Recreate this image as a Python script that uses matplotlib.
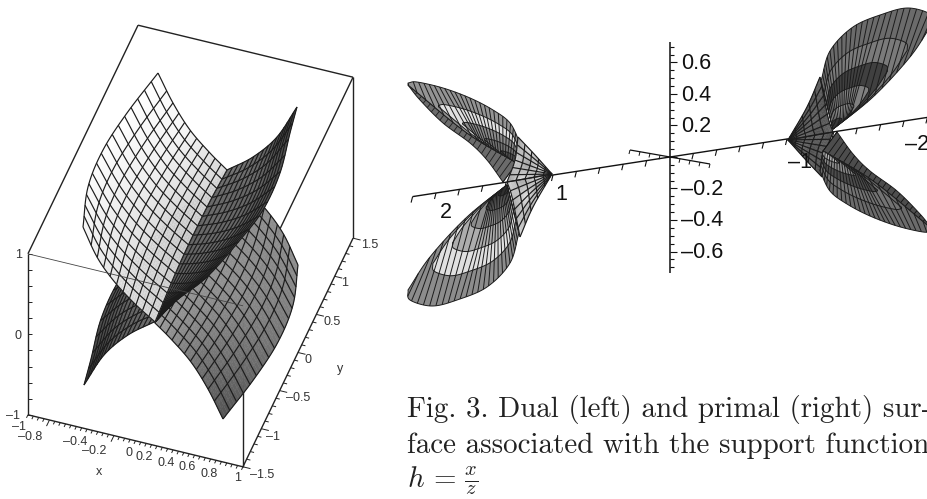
#!/usr/bin/env python
"""
Dual (left) and primal (right) surface figure with its caption.
Sheet edges and grey levels are read off the picture, in pixels;
the mesh inside each sheet is blended between those read edges.
"""
import numpy as np
import matplotlib
matplotlib.use("Agg")
import matplotlib.pyplot as plt
from matplotlib.collections import PolyCollection, LineCollection
from matplotlib.patches import Polygon

plt.rcParams['mathtext.fontset'] = 'cm'

# --- left plot: box axes ---
BOX_ORIGIN = np.array([190.5, 246.0])
BOX_X = np.array([107.5, 26.0])
BOX_Y = np.array([36.7, -76.2])
BOX_Z = np.array([0.0, -80.5])

x_tick_labels = ['–1', '–0.8', '–0.4', '–0.2', '0', '0.2', '0.4', '0.6', '0.8', '1']
x_tick_label_pos = [(19, 427), (30, 437), (75, 442), (94, 451), (129, 453),
                    (144, 457), (166, 463), (187, 467), (209, 474), (238, 478)]
y_tick_labels = ['1.5', '1', '0.5', '0', '–0.5', '–1', '–1.5']
y_tick_label_pos = [(370, 245), (345, 283), (332, 322), (308, 360), (298, 398), (273, 437), (262, 475)]
z_tick_labels = ['1', '0', '–1']
z_tick_label_pos = [(19, 255), (18, 336), (13, 416)]

# --- left plot: sheet edges (two sheets, the other two are their point reflection) ---
white_top = [(158, 73), (173, 103), (190, 130), (210, 153), (227, 170)]
white_bottom = [(83, 227), (97, 257), (113, 280), (133, 302), (155, 322)]
white_left = [(158, 73), (127, 113), (103, 150), (88, 187), (83, 227)]
white_crease = [(227, 170), (207, 207), (180, 263), (155, 322)]
dark_top = [(297, 107), (277, 137), (253, 157), (227, 170)]
dark_far = [(297, 107), (290, 133), (280, 173), (263, 210), (240, 240), (207, 277), (177, 300), (155, 322)]

white_gray = [[1.0, 0.97, 0.85], [1.0, 0.92, 0.80], [0.97, 0.90, 0.85]]
dark_gray = [[0.25, 0.38, 0.45], [0.32, 0.42, 0.40], [0.35, 0.35, 0.35]]
grey_gray = [[0.32, 0.45, 0.62], [0.45, 0.55, 0.60], [0.55, 0.55, 0.55]]
under_gray = [[0.22, 0.32, 0.42], [0.35, 0.42, 0.50], [0.40, 0.40, 0.40]]

# --- right plot: axes ---
PRIMAL_ORIGIN = np.array([670.0, 157.0])
PRIMAL_X = np.array([-117.0, 18.0])
PRIMAL_Y = np.array([40.0, 7.0])
PRIMAL_Z = np.array([0.0, -157.5])

z2_ticks = [0.6, 0.4, 0.2, -0.2, -0.4, -0.6]
z2_labels = ['0.6', '0.4', '0.2', '–0.2', '–0.4', '–0.6']
x2_labels = ['1', '2', '–1', '–2']
x2_label_pos = [(561, 195), (446, 212), (800, 162), (917, 145)]

# --- right plot: lobes on the left side (the right side is their point reflection) ---
low_outline = [(408, 290), (410, 300), (432, 306), (457, 300), (487, 287), (510, 263), (519, 233)]
low_edge = [(408, 290), (430, 257), (467, 217), (507, 185)]
low_center = (507, 185)
low_rings = [1.0, 0.75, 0.55, 0.36, 0.21, 0.09]
low_gray = [0.55, 0.88, 0.68, 0.55, 0.45, 0.28]
low_gray_dark = [0.42, 0.48, 0.25, 0.50, 0.70, 0.35]
low_ray_from = [0, 0.08, 0.4, 1]
low_ray_to = [0, 0.27, 0.85, 1]

up_outline = [(408, 83), (417, 82), (443, 88), (470, 98), (493, 110), (510, 123), (520, 143)]
up_fold = [(408, 85), (467, 133), (517, 163)]
up_edge = [(408, 85), (420, 100), (443, 123), (470, 143), (487, 160), (503, 182)]
up_center = (517, 163)
up_rings = [1.0, 0.72, 0.5, 0.3, 0.15]
up_gray = [0.58, 0.88, 0.55, 0.45, 0.30]
up_gray_dark = [0.42, 0.45, 0.30, 0.55, 0.70]
up_ray_from = [0, 0.3, 1]
up_ray_to = [0, 0.65, 1]

cusp = (552, 174)
twist_a = [(552, 174), (535, 155), (518, 137)]
twist_b = [(552, 174), (530, 178), (507, 182)]
twist_far = [(518, 137), (515, 160), (507, 182)]
twist_c = [(552, 174), (533, 207), (520, 237)]
twist_far2 = [(507, 182), (512, 197), (520, 237)]
twist_gray_1 = [[0.9, 0.6, 0.9, 0.6], [0.62, 0.9, 0.6, 0.85], [0.85, 0.6, 0.9, 0.6]]
twist_gray_2 = [[0.6, 0.9, 0.62, 0.85], [0.88, 0.6, 0.9, 0.65], [0.62, 0.88, 0.6, 0.85]]
twist_dark_1 = [[0.4, 0.25, 0.4, 0.25], [0.3, 0.45, 0.3, 0.4], [0.4, 0.3, 0.4, 0.3]]
twist_dark_2 = [[0.3, 0.45, 0.3, 0.4], [0.45, 0.3, 0.4, 0.3], [0.3, 0.4, 0.3, 0.4]]

caption_lines = ['Fig. 3. Dual (left) and primal (right) sur-',
                 'face associated with the support function']


def smooth(points, n=200):
    """Catmull-Rom through the read points, resampled by arc length."""
    p = np.array(points, dtype=float)
    if len(p) > 2:
        q = np.vstack([2 * p[0] - p[1], p, 2 * p[-1] - p[-2]])
        out = []
        for i in range(1, len(q) - 2):
            t = np.linspace(0, 1, 30, endpoint=False)[:, None]
            out.append(0.5 * (2 * q[i] + (q[i + 1] - q[i - 1]) * t
                              + (2 * q[i - 1] - 5 * q[i] + 4 * q[i + 1] - q[i + 2]) * t ** 2
                              + (3 * q[i] - q[i - 1] - 3 * q[i + 1] + q[i + 2]) * t ** 3))
        out.append(p[-1:])
        p = np.vstack(out)
    d = np.r_[0, np.cumsum(np.hypot(*np.diff(p, axis=0).T))]
    if d[-1] == 0:
        return np.tile(p[0], (n, 1))
    f = np.linspace(0, d[-1], n)
    return np.c_[np.interp(f, d, p[:, 0]), np.interp(f, d, p[:, 1])]


def at(curve, f):
    idx = np.asarray(f) * (len(curve) - 1)
    grid = np.arange(len(curve))
    return np.c_[np.interp(idx, grid, curve[:, 0]), np.interp(idx, grid, curve[:, 1])]


def sheet(top, bottom, left, right, us, vs):
    """Blend the four read edges into a grid of points."""
    a, b = at(smooth(top), us), at(smooth(bottom), us)
    c, d = at(smooth(left), vs), at(smooth(right), vs)
    uu, vv = np.meshgrid(us, vs)
    grid = np.zeros(uu.shape + (2,))
    for k in range(2):
        grid[..., k] = ((1 - vv) * a[:, k][None, :] + vv * b[:, k][None, :]
                        + (1 - uu) * c[:, k][:, None] + uu * d[:, k][:, None]
                        - ((1 - uu) * (1 - vv) * a[0, k] + uu * (1 - vv) * a[-1, k]
                           + (1 - uu) * vv * b[0, k] + uu * vv * b[-1, k]))
    return grid


def shade(table, u, v):
    t = np.array(table)
    iu = u * (t.shape[1] - 1)
    iv = v * (t.shape[0] - 1)
    i0 = min(int(iv), t.shape[0] - 2)
    j0 = min(int(iu), t.shape[1] - 2)
    fu, fv = iu - j0, iv - i0
    return ((1 - fu) * (1 - fv) * t[i0, j0] + fu * (1 - fv) * t[i0, j0 + 1]
            + (1 - fu) * fv * t[i0 + 1, j0] + fu * fv * t[i0 + 1, j0 + 1])


def draw_sheet(ax, edges, table, nu, nv, power, zorder, flip=None, lw=0.85):
    sub = 3
    us = np.linspace(0, 1, nu * sub + 1) ** power
    vs = np.linspace(0, 1, nv * sub + 1)
    grid = sheet(*edges, us, vs)
    if flip is not None:
        grid = 2 * np.array(flip) - grid
    polys, colors = [], []
    for i in range(len(vs) - 1):
        for j in range(len(us) - 1):
            polys.append([grid[i, j], grid[i, j + 1], grid[i + 1, j + 1], grid[i + 1, j]])
            g = shade(table, 0.5 * (us[j] + us[j + 1]), 0.5 * (vs[i] + vs[i + 1]))
            colors.append((g, g, g))
    ax.add_collection(PolyCollection(polys, facecolors=colors, edgecolors=colors,
                                     linewidths=0.3, zorder=zorder))
    lines = [grid[i, :] for i in range(0, len(vs), sub)] + [grid[:, j] for j in range(0, len(us), sub)]
    ax.add_collection(LineCollection(lines, colors='#1c1c1c', linewidths=lw, zorder=zorder + 0.1))


def draw_lobe(ax, outline, edge, center, rings, grays, ray_from, ray_to, zorder, flip=None, n_rays=26, lw=0.7):
    o = smooth(outline)
    e = smooth(list(edge) + ([tuple(center)] if tuple(edge[-1]) != tuple(center) else []))
    c = np.array(center, dtype=float)
    shape = np.vstack([o, e[::-1]])
    mapit = (lambda p: 2 * np.array(flip) - p) if flip is not None else (lambda p: p)
    for r, g in zip(rings, grays):
        ring = mapit(c + r * (shape - c))
        ax.add_patch(Polygon(ring, closed=True, facecolor=(g, g, g), edgecolor='#1c1c1c',
                             linewidth=0.7, zorder=zorder))
    u = np.linspace(0, 1, n_rays)
    a = mapit(at(o, u))
    b = mapit(at(e, np.interp(u, ray_from, ray_to)))
    rays = [np.array([p, q]) for p, q in zip(a, b)]
    ax.add_collection(LineCollection(rays, colors='#1c1c1c', linewidths=lw, zorder=zorder + 0.1))


def box_pt(x, y, z):
    return BOX_ORIGIN + x * BOX_X + y * BOX_Y + z * BOX_Z


def primal_pt(x, y, z):
    return PRIMAL_ORIGIN + x * PRIMAL_X + y * PRIMAL_Y + z * PRIMAL_Z


def seg(ax, p, q, lw=0.9, color='#222222', zorder=1):
    ax.plot([p[0], q[0]], [p[1], q[1]], color=color, lw=lw, zorder=zorder, solid_capstyle='butt')


def draw_left(ax):
    # back edges of the box
    for a, b in [((-1, -1.5, 1), (-1, 1.5, 1)), ((-1, 1.5, 1), (1, 1.5, 1)),
                 ((1, 1.5, 1), (1, 1.5, -1)), ((1, 1.5, 1), (1, -1.5, 1)),
                 ((1, -1.5, 1), (1, -1.5, -1)), ((-1, -1.5, 1), (-1, -1.5, -1)),
                 ((-1, -1.5, -1), (1, -1.5, -1)), ((1, -1.5, -1), (1, 1.5, -1))]:
        seg(ax, box_pt(*a), box_pt(*b), lw=1.0)

    c = tuple(BOX_ORIGIN)
    draw_sheet(ax, (dark_top, [(155, 322), (155, 322)], dark_far, white_crease), under_gray, 16, 16, 1.0, 2, flip=c)
    draw_sheet(ax, (white_top, white_bottom, white_left, white_crease), grey_gray, 11, 16, 0.75, 3, flip=c)
    draw_sheet(ax, (dark_top, [(155, 322), (155, 322)], dark_far, white_crease), dark_gray, 16, 16, 1.0, 4)
    draw_sheet(ax, (white_top, white_bottom, white_left, white_crease), white_gray, 11, 16, 0.75, 5)

    # front top edge shows faintly through the surfaces
    seg(ax, box_pt(-1, -1.5, 1), box_pt(1, -1.5, 1), lw=0.6, color='#444444', zorder=6)

    for x in np.arange(-1, 1.001, 0.05):
        p = box_pt(x, -1.5, -1)
        major = round(x, 2) in (-0.8, -0.2)
        seg(ax, p, p - (0.08 if major else 0.04) * BOX_Y, lw=0.7, zorder=1)
    for y in np.arange(-1.5, 1.501, 0.1):
        p = box_pt(1, y, -1)
        major = abs(y * 2 - round(y * 2)) < 1e-6
        seg(ax, p, p + (0.07 if major else 0.035) * BOX_X, lw=0.7, zorder=1)
    for z in np.arange(-1, 1.001, 0.2):
        p = box_pt(-1, -1.5, z)
        seg(ax, p, p + 0.035 * BOX_X * np.array([1, 0]), lw=0.7, zorder=1)

    style = dict(family='Liberation Sans', fontsize=9, color='#333333', ha='center', va='center')
    for lab, pos in zip(x_tick_labels, x_tick_label_pos):
        ax.text(pos[0], pos[1], lab, **style)
    for lab, pos in zip(y_tick_labels, y_tick_label_pos):
        ax.text(pos[0], pos[1], lab, **style)
    for lab, pos in zip(z_tick_labels, z_tick_label_pos):
        ax.text(pos[0], pos[1], lab, **style)
    ax.text(99, 472, 'x', **style)
    ax.text(340, 369, 'y', **style)


def draw_right(ax):
    # axes
    seg(ax, primal_pt(2.2, 0, 0), primal_pt(-2.3, 0, 0), lw=1.0, color='#111111', zorder=1)
    seg(ax, primal_pt(0, -1, 0), primal_pt(0, 1, 0), lw=0.9, color='#111111', zorder=1)
    seg(ax, primal_pt(0, 0, 0.73), primal_pt(0, 0, -0.735), lw=1.1, color='#111111', zorder=1)
    for x in np.arange(-2.2, 2.21, 0.2):
        if abs(x) > 0.01:
            p = primal_pt(x, 0, 0)
            seg(ax, p, p + np.array([-1.5, 6]), lw=0.8, color='#111111', zorder=1)
    for y in np.arange(-1, 1.01, 0.25):
        if abs(y) > 0.01:
            p = primal_pt(0, y, 0)
            seg(ax, p, p + np.array([-1, 4]), lw=0.7, color='#111111', zorder=1)
    for z in np.arange(-0.7, 0.701, 0.05):
        p = primal_pt(0, 0, z)
        major = abs(z * 5 - round(z * 5)) < 1e-6
        seg(ax, p, p + np.array([7 if major else 4.5, 0]), lw=0.8, color='#111111', zorder=1)

    style = dict(family='Liberation Sans', fontsize=15.5, color='#111111', va='center')
    for z, lab in zip(z2_ticks, z2_labels):
        ax.text(681, primal_pt(0, 0, z)[1] + 1, lab, ha='left', **style)
    for lab, pos in zip(x2_labels, x2_label_pos):
        ax.text(pos[0], pos[1], lab, ha='center', **style)

    # left side: lobes, fold, then twisted band on top
    ax.add_patch(Polygon(np.vstack([smooth(up_edge), smooth(up_fold)[::-1]]), closed=True,
                         facecolor='0.42', edgecolor='#1c1c1c', linewidth=0.7, zorder=2))
    draw_lobe(ax, low_outline, low_edge, low_center, low_rings, low_gray, low_ray_from, low_ray_to, 3)
    fold = at(smooth(up_fold), np.linspace(0, 1, 24))
    under = at(smooth(up_edge), np.linspace(0, 1, 24))
    ax.add_collection(LineCollection([np.array([p, q]) for p, q in zip(fold, under)],
                                     colors='#1c1c1c', linewidths=0.6, zorder=2.5))
    draw_lobe(ax, up_outline, up_fold, up_center, up_rings, up_gray, up_ray_from, up_ray_to, 3)
    draw_sheet(ax, (twist_a, twist_b, [cusp, cusp], twist_far), twist_gray_1, 5, 6, 1.0, 6)
    draw_sheet(ax, (twist_b, twist_c, [cusp, cusp], twist_far2), twist_gray_2, 5, 6, 1.0, 6)

    # right side: same shapes reflected through the origin, band under the lobes
    c = tuple(PRIMAL_ORIGIN)
    draw_sheet(ax, (twist_a, twist_b, [cusp, cusp], twist_far), twist_dark_1, 5, 6, 1.0, 2, flip=c)
    draw_sheet(ax, (twist_b, twist_c, [cusp, cusp], twist_far2), twist_dark_2, 5, 6, 1.0, 2, flip=c)
    ax.add_patch(Polygon(2 * PRIMAL_ORIGIN - np.vstack([smooth(up_edge), smooth(up_fold)[::-1]]), closed=True,
                         facecolor='0.3', edgecolor='#1c1c1c', linewidth=0.7, zorder=3))
    ax.add_collection(LineCollection([2 * PRIMAL_ORIGIN - np.array([p, q]) for p, q in zip(fold, under)],
                                     colors='#111111', linewidths=0.6, zorder=3.5))
    draw_lobe(ax, low_outline, low_edge, low_center, low_rings, low_gray_dark, low_ray_from, low_ray_to, 4, flip=c)
    draw_lobe(ax, up_outline, up_fold, up_center, up_rings, up_gray_dark, up_ray_from, up_ray_to, 4, flip=c)


def main():
    fig = plt.figure(figsize=(9.27, 4.99), dpi=100)
    ax = fig.add_axes([0, 0, 1, 1])
    ax.set_xlim(0, 927)
    ax.set_ylim(499, 0)
    ax.axis('off')

    draw_left(ax)
    draw_right(ax)

    style = dict(fontsize=20.9, color='#222222', va='baseline', ha='left')
    ax.text(407, 417, caption_lines[0], family='cmr10', **style)
    ax.text(407, 453, caption_lines[1], family='cmr10', **style)
    ax.text(407, 488, r'$h\,=\,\frac{x}{z}$', **style)

    fig.savefig('out.png', dpi=100)
    plt.close(fig)


if __name__ == "__main__":
    main()
